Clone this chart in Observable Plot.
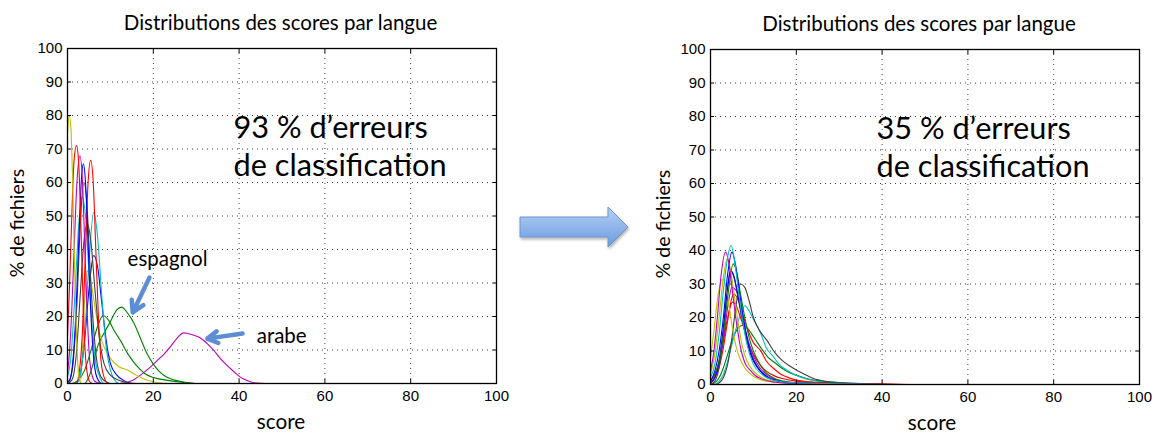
<!DOCTYPE html>
<html>
<head>
<meta charset="utf-8">
<script src="https://cdn.jsdelivr.net/npm/d3@7"></script>
<script src="https://cdn.jsdelivr.net/npm/@observablehq/plot@0.6"></script>
<style>
  html, body { margin: 0; padding: 0; background: #fff; }
  #wrap { position: relative; width: 1154px; height: 433px; overflow: hidden; background: #fff; }
  #wrap > * { position: absolute; top: 0; }
</style>
</head>
<body>
<div id="wrap"></div>
<script>
// ---------- tick labels ----------
const xTicks = [0, 20, 40, 60, 80, 100];
const yTicks = [0, 10, 20, 30, 40, 50, 60, 70, 80, 90, 100];

// ---------- texts ----------
const titleText = "Distributions des scores par langue";
const xLabel = "score";
const yLabel = "% de fichiers";
const leftNote = "93 % d’erreurs\nde classification";
const rightNote = "35 % d’erreurs\nde classification";

// ---------- left panel series: [score, % de fichiers] ----------
const L_yellow1 = [[0,75],[0.4,80],[0.8,76],[1.2,60],[1.6,38],[2.0,18],[2.4,6],[2.8,1],[3.2,0],[100,0]];
const L_red1 = [[0,14],[0.5,30],[1,50],[1.5,66],[2.1,71],[2.6,66],[3.1,48],[3.6,26],[4.1,10],[4.6,3],[5.2,0.5],[6,0],[100,0]];
const L_magenta1 = [[0,3],[0.5,10],[1,22],[1.6,42],[2.2,60],[2.9,68],[3.5,60],[4,42],[4.5,24],[5,10],[5.6,3],[6.5,0.5],[8,0],[100,0]];
const L_blue1 = [[0,0.5],[0.5,1],[1.2,6],[2,22],[2.7,45],[3.3,62],[3.7,65.6],[4.2,60],[4.8,42],[5.4,22],[6,9],[6.8,2],[8,0],[100,0]];
const L_red2 = [[0,0],[2,0],[2.8,4],[3.5,16],[4.2,40],[4.8,60],[5.4,66.6],[6,60],[6.6,40],[7.2,20],[7.8,7],[8.5,2],[9.5,0],[100,0]];
const L_gray1 = [[0,0.3],[0.5,1],[1.3,6],[2.2,24],[3,48],[3.8,60],[4.5,54],[5.2,36],[6,18],[6.8,7],[7.8,2],[9,0.5],[10,0],[100,0]];
const L_cyan1 = [[0,2],[0.8,8],[1.7,26],[2.6,47],[3.4,55.6],[4.2,50],[5,33],[5.8,16],[6.6,6],[7.5,2],[8.5,0],[100,0]];
const L_gray2 = [[0,0],[1,1],[2,8],[3,27],[3.8,42],[4.6,47.7],[5.4,43],[6.4,28],[7.4,14],[8.5,6],[10,2.5],[12,1],[14,0.3],[16,0],[100,0]];
const L_cyan2 = [[0,0],[2,0],[3,3],[4,14],[5,36],[6.1,51],[7,44],[8,26],[9,11],[10,4],[11,1],[12,0],[100,0]];
const L_blue2 = [[0,0],[2,0],[3,3],[4,13],[5,28],[6.1,38.2],[7,35],[8,24],[9,13],[10,6],[11.5,2.5],[13,1],[15,0],[100,0]];
const L_yellow2 = [[0,0],[3,0],[3.5,10],[4,25],[4.6,33.7],[5.5,30],[6.5,22],[7.5,15],[8.5,11],[10,7.5],[12,5],[14,4],[16,2.5],[18,1.3],[20,0.5],[23,0],[100,0]];
const L_green1 = [[0,0],[1,0],[2.5,1],[4,4],[5.5,10],[7,17],[8.3,20.3],[9.5,19],[11,15.5],[12.5,12.5],[14,9],[16,5.5],[18,3],[20,1.8],[23,1],[27,0.3],[30,0],[100,0]];
const L_green2 = [[0,0],[4,0],[5,2],[6,6],[7,11],[8.5,15],[10,18.5],[11.5,22],[12.6,22.8],[14,21],[15.5,18],[17,13.5],[18.5,9],[20,5.8],[21.5,3.5],[23,2],[25,1],[28,0.3],[30,0],[100,0]];
const L_magenta2 = [[0,0],[12,0],[15,0.8],[17,2.5],[19.3,4.9],[21,7],[22.5,8.8],[24,11],[25.5,13.5],[27.1,15.1],[29,14.6],[31,13.6],[32.5,12],[34.1,9.9],[35.6,7.5],[37.2,5.4],[38.8,3.5],[40.3,1.9],[42,0.8],[44.2,0.1],[46,0],[100,0]];

// ---------- right panel series ----------
const R_cyan1 = [[0,2],[1,6],[2,15],[3,28],[4,38],[4.8,41.5],[5.6,37],[6.5,28],[7.5,19],[8.5,12],[10,6],[12,3],[15,1.2],[20,0.5],[30,0.2],[45,0],[100,0]];
const R_magenta1 = [[0,4],[0.8,10],[1.6,20],[2.5,33],[3.5,39.5],[4.3,36],[5,29],[6,19],[7,11],[8,6.5],[9.3,4.2],[10.5,2.6],[11.7,1.8],[14,0.9],[18,0.4],[25,0.1],[35,0],[100,0]];
const R_blue1 = [[0,1],[1,4],[2,10],[3,20],[4,33],[5,39.5],[5.8,36],[6.6,29],[7.5,21],[8.5,14],[9.5,9],[11,5],[13,2.5],[16,1],[20,0.4],[30,0.1],[40,0],[100,0]];
const R_yellow1 = [[0,3],[1,9],[2,20],[3,32],[3.9,37.5],[4.7,34],[5.5,27],[6.5,18],[7.5,11],[8.5,7],[10,4],[12,2],[15,0.8],[20,0.3],[30,0],[100,0]];
const R_green1 = [[0,1],[1,3],[2,7],[3,15],[4,26],[5.3,36],[6.2,33],[7,27],[8,20],[9,14],[10,10],[11.5,6],[13,3.5],[15,1.8],[18,0.8],[22,0.4],[30,0],[100,0]];
const R_yellow2 = [[0,8],[0.8,16],[1.8,27],[2.8,31.5],[3.6,29],[4.5,22],[5.5,14],[6.5,9],[7.5,6],[9,3.5],[11,1.8],[14,0.8],[20,0.3],[30,0],[100,0]];
const R_blue2 = [[0,0.5],[1,2],[2,7],[3,17],[4,29],[4.7,34],[5.5,32],[6.5,26],[7.5,19],[8.5,13],[9.5,8.5],[11,5],[13,2.5],[16,1],[20,0.4],[30,0],[100,0]];
const R_gray1 = [[0,0],[1,1],[2,5],[3,15],[4,29],[4.6,34],[5.3,33],[6,29],[7,22],[8,16],[9,11],[10,7.5],[12,3.5],[15,1.2],[20,0.4],[30,0],[100,0]];
const R_gray2 = [[0,0],[1,0],[2,0.5],[3,2],[4,6],[5,14],[6,24],[7,30],[8,29],[9,25],[10,20],[11.5,16],[13.2,13.1],[15,9.5],[16.7,7.2],[18.5,5.5],[20.2,4.2],[22,3],[24,1.8],[27,0.9],[32,0.3],[40,0],[100,0]];
const R_magenta2 = [[0,0.5],[1,2],[2,6],[3,13],[4,23],[5,29],[6,28],[7,23],[8,17],[9,12],[10,8.5],[11.5,5],[13,3],[15,1.5],[18,0.6],[25,0.2],[35,0],[100,0]];
const R_red1 = [[0,0.5],[1,2],[2,5],[3,11],[4,19],[5,26],[5.5,27],[6.5,25],[7.5,21],[8.5,17],[10,12.5],[11.7,10.1],[13,7],[14.8,4.7],[16.5,3],[17.9,2.2],[20,1.3],[23,0.8],[28,0.5],[35,0.3],[45,0],[100,0]];
const R_red2 = [[0,1],[1,3],[2,7],[3,13],[4,20],[5.1,24.6],[6,23.5],[7,20],[8,16],[9,12],[10,9],[11.5,6],[13,4],[15,2.5],[17,1.7],[20,1],[25,0.5],[35,0.2],[50,0],[100,0]];
const R_cyan2 = [[0,0],[1,0],[2,1],[3,3],[4,7],[5,12],[6,17],[7,21],[8,23.5],[9,22],[10,19.5],[11.7,15.2],[13,11],[14.7,8.2],[16,6],[17.9,4.2],[21,2.2],[24,1.2],[28,0.6],[35,0.2],[45,0],[100,0]];
const R_green2 = [[0,0],[1,0.5],[2,2],[3,5],[4,9],[5,13],[6,16],[7.5,17.6],[8.5,17],[10.1,14.1],[12,10.5],[13.5,8],[14.8,6.7],[16.5,5],[18,3.8],[20.2,2.7],[23.5,1.4],[26,1],[30,0.6],[35,0.3],[45,0],[100,0]];

// ---------- styling (MATLAB default line colours) ----------
const C = {b:"#0000ff", g:"#008000", r:"#ff0000", c:"#00bfbf", m:"#bf00bf", y:"#bfbf00", k:"#404040"};

const leftSeries = [
  ["L_magenta2", L_magenta2, C.m], ["L_green2", L_green2, C.g], ["L_green1", L_green1, C.g],
  ["L_yellow2", L_yellow2, C.y], ["L_blue2", L_blue2, C.b], ["L_cyan2", L_cyan2, C.c],
  ["L_gray2", L_gray2, C.k], ["L_cyan1", L_cyan1, C.c], ["L_gray1", L_gray1, C.k],
  ["L_red2", L_red2, C.r], ["L_blue1", L_blue1, C.b], ["L_magenta1", L_magenta1, C.m],
  ["L_red1", L_red1, C.r], ["L_yellow1", L_yellow1, C.y]
];
const rightSeries = [
  ["R_green2", R_green2, C.g], ["R_cyan2", R_cyan2, C.c], ["R_red2", R_red2, C.r],
  ["R_red1", R_red1, C.r], ["R_magenta2", R_magenta2, C.m], ["R_gray2", R_gray2, C.k],
  ["R_gray1", R_gray1, C.k], ["R_blue2", R_blue2, C.b], ["R_yellow2", R_yellow2, C.y],
  ["R_green1", R_green1, C.g], ["R_yellow1", R_yellow1, C.y], ["R_blue1", R_blue1, C.b],
  ["R_magenta1", R_magenta1, C.m], ["R_cyan1", R_cyan1, C.c]
];

function toRows(series) {
  return series.flatMap(([id, pts, color]) => pts.map(([x, y]) => ({id, color, x, y})));
}

const TXT = "Lato, 'Open Sans', sans-serif";
const NUM = "'Liberation Sans', Arial, Helvetica, sans-serif";

function panel(series, note, o) {
  const rows = toRows(series);
  return Plot.plot({
    width: o.width, height: 433,
    marginLeft: 67, marginRight: o.marginRight, marginTop: o.marginTop, marginBottom: o.marginBottom,
    x: {domain: [0, 100]},
    y: {domain: [0, 100]},
    color: {type: "identity"},
    style: {fontFamily: NUM, fontSize: "15px", color: "#000", background: "#fff", overflow: "visible"},
    marks: [
      Plot.gridX(xTicks, {stroke: "#000", strokeOpacity: 0.75, strokeDasharray: "1,4"}),
      Plot.gridY(yTicks, {stroke: "#000", strokeOpacity: 0.75, strokeDasharray: "1,4"}),
      Plot.line(rows, {x: "x", y: "y", z: "id", stroke: "color", strokeWidth: 1.1, curve: "monotone-x"}),
      Plot.frame({stroke: "#000", strokeWidth: 1.3}),
      Plot.axisX(xTicks, {anchor: "bottom", tickSize: 0, tickPadding: 7, label: null, fontSize: 15}),
      Plot.axisY(yTicks, {anchor: "left", tickSize: 0, tickPadding: 5, label: null, fontSize: 15}),
      Plot.axisX(xTicks, {anchor: "bottom", tickSize: -4, fill: "none", label: null}),
      Plot.axisX(xTicks, {anchor: "top", tickSize: -4, fill: "none", label: null}),
      Plot.axisY(yTicks, {anchor: "left", tickSize: -4, fill: "none", label: null}),
      Plot.axisY(yTicks, {anchor: "right", tickSize: -4, fill: "none", label: null}),
      Plot.text([titleText], {frameAnchor: "top", lineAnchor: "middle", dy: -25, dx: o.titleDx, fontFamily: TXT, fontSize: 20.5, fill: "#000"}),
      Plot.text([yLabel], {frameAnchor: "left", lineAnchor: "middle", dx: o.yLabelDx, dy: 7, rotate: -90, textAnchor: "middle", fontFamily: TXT, fontSize: 19.5, fill: "#000"}),
      Plot.text([xLabel], {frameAnchor: "bottom", lineAnchor: "middle", dy: 39, dx: o.xLabelDx, fontFamily: TXT, fontSize: 20.7, fill: "#000"}),
      Plot.text([note], {frameAnchor: "top-left", dx: 166, dy: 62, textAnchor: "start", lineAnchor: "top", lineHeight: 1.24, fontFamily: TXT, fontSize: 30.7, fill: "#000"}),
      ...(o.extra || [])
    ]
  });
}

const ARROW = "#5b8ed4";
const leftExtras = [
  Plot.text(["espagnol"], {x: 14, y: 37, textAnchor: "start", fontFamily: TXT, fontSize: 20.5, fill: "#000"}),
  Plot.text(["arabe"], {x: 44.1, y: 14, textAnchor: "start", fontFamily: TXT, fontSize: 20.5, fill: "#000"}),
  Plot.arrow([0], {x1: 19.1, y1: 31.6, x2: 15.2, y2: 21.2, stroke: ARROW, strokeWidth: 4.5, headLength: 9}),
  Plot.arrow([0], {x1: 40.8, y1: 14.9, x2: 32.6, y2: 13.4, stroke: ARROW, strokeWidth: 4.5, headLength: 9})
];

const left = panel(leftSeries, leftNote, {width: 560, marginRight: 64, marginTop: 48, marginBottom: 50, titleDx: -1.5, yLabelDx: -50, xLabelDx: -1, extra: leftExtras});
const right = panel(rightSeries, rightNote, {width: 511, marginRight: 15, marginTop: 49, marginBottom: 49, titleDx: -6, yLabelDx: -47, xLabelDx: 7});

const wrap = document.getElementById("wrap");
left.style.left = "0px";
right.style.left = "643px";
wrap.appendChild(left);
wrap.appendChild(right);

// decorative block arrow between the two panels
const ns = "http://www.w3.org/2000/svg";
const deco = document.createElementNS(ns, "svg");
deco.setAttribute("width", "130");
deco.setAttribute("height", "60");
deco.style.left = "512px";
deco.style.top = "198px";
deco.innerHTML = `
  <defs>
    <linearGradient id="blk" x1="0" y1="0" x2="0" y2="1">
      <stop offset="0" stop-color="#b9d2f3"/>
      <stop offset="0.5" stop-color="#8fb5ea"/>
      <stop offset="1" stop-color="#6b9be0"/>
    </linearGradient>
    <filter id="sh" x="-20%" y="-30%" width="140%" height="170%">
      <feDropShadow dx="1" dy="2" stdDeviation="1.5" flood-color="#000" flood-opacity="0.3"/>
    </filter>
  </defs>
  <path d="M8 19 H96 V9 L116 29 L96 49 V39 H8 Z" fill="url(#blk)" stroke="#6d95cc" stroke-width="1" filter="url(#sh)"/>`;
wrap.appendChild(deco);
</script>
</body>
</html>
